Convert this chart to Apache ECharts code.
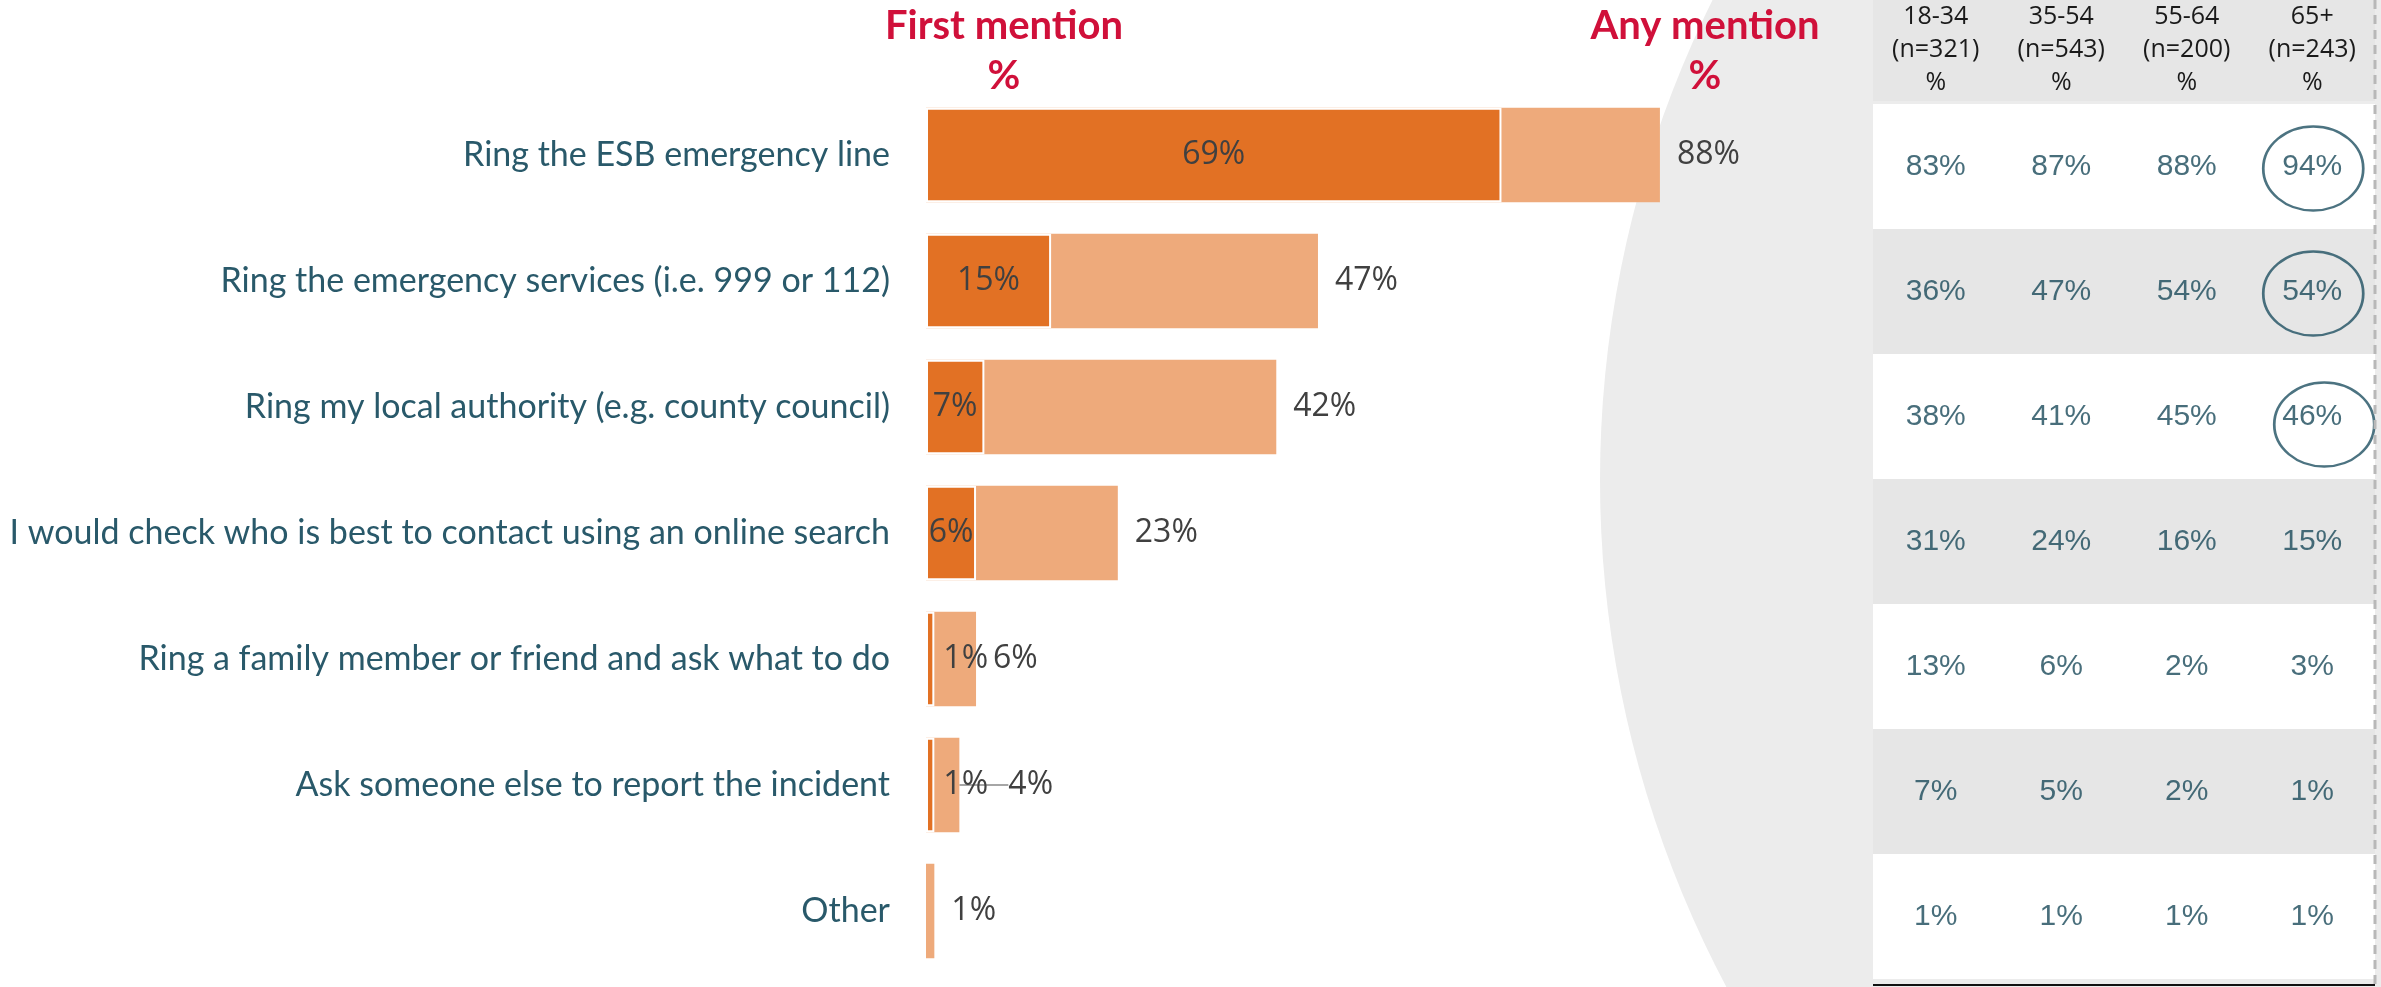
<!DOCTYPE html>
<html>
<head>
<meta charset="utf-8">
<script src="https://cdn.jsdelivr.net/npm/echarts@6/dist/echarts.min.js"></script>
<style>
html,body{margin:0;padding:0;background:#fff}
#chart{width:2381px;height:987px}
</style>
</head>
<body>
<div id="chart"></div>
<script>
// 数据
const categories = [
  'Ring the ESB emergency line',
  'Ring the emergency services (i.e. 999 or 112)',
  'Ring my local authority (e.g. county council)',
  'I would check who is best to contact using an online search',
  'Ring a family member or friend and ask what to do',
  'Ask someone else to report the incident',
  'Other'
]
const firstMention = [69, 15, 7, 6, 1, 1, '-']
const anyMention = [88, 47, 42, 23, 6, 4, 1]

const ageGroups = ['18-34', '35-54', '55-64', '65+']
const ageBases = ['n=321', 'n=543', 'n=200', 'n=243']
const age1834 = [83, 36, 38, 31, 13, 7, 1]
const age3554 = [87, 47, 41, 24, 6, 5, 1]
const age5564 = [88, 54, 45, 16, 2, 2, 1]
const age65plus = [94, 54, 46, 15, 3, 1, 1]
// 画圈的单元格 [列, 行]
const circled = [[3, 0], [3, 1], [3, 2]]

const labelFont = 'Lato'
const valueFont = 'Open Sans'
const teal = '#29596a'

const tableCols = [age1834, age3554, age5564, age65plus]
const tableData = []
tableCols.forEach((col, c) => {
  col.forEach((v, r) => tableData.push([c, r, v]))
})
const headerLabels = ageGroups.map((g, i) => g + '\n(' + ageBases[i] + ')\n%')

const circleOffsets = [[1, 2], [1, 2], [12, 8]]
// 标签被挤开的那一行(带引线)
const pushedLabel = 5

const chartInstance = echarts.init(document.getElementById('chart'))

const option = {
  backgroundColor: '#fff',
  animation: false,
  graphic: [
    // 背景的大灰色圆弧
    {type: 'circle', z: -5, shape: {cx: 2680, cy: 480, r: 1080}, style: {fill: '#ececec'}},
    {type: 'rect', z: -4, shape: {x: 1873, y: 0, width: 502, height: 101}, style: {fill: '#e6e6e6'}},
    {type: 'line', z: 10, shape: {x1: 2375, y1: 0, x2: 2375, y2: 987},
      style: {stroke: '#b8b8b8', lineWidth: 3, lineDash: [9, 6]}},
    {type: 'line', z: 10, shape: {x1: 1873, y1: 985, x2: 2375, y2: 985},
      style: {stroke: '#111', lineWidth: 2}},
    {type: 'text', z: 10, style: {text: 'First mention\n%', x: 1004, y: 1, align: 'center',
      fill: '#d0103a', font: 'bold 40px Lato', lineHeight: 50}},
    {type: 'text', z: 10, style: {text: 'Any mention\n%', x: 1705, y: 1, align: 'center',
      fill: '#d0103a', font: 'bold 40px Lato', lineHeight: 50}}
  ],
  grid: [
    {left: 926, top: 92, width: 834, height: 882},
    {left: 1873, top: 103, width: 502, height: 876}
  ],
  xAxis: [
    {type: 'value', min: 0, max: 100, show: false, gridIndex: 0},
    {
      type: 'category', gridIndex: 1, position: 'top', data: headerLabels,
      axisLine: {show: false}, axisTick: {show: false},
      axisLabel: {fontSize: 25, lineHeight: 33, color: '#1a1a1a', fontFamily: valueFont, margin: 5}
    }
  ],
  yAxis: [
    {
      type: 'category', gridIndex: 0, inverse: true, data: categories,
      axisLine: {show: false}, axisTick: {show: false},
      axisLabel: {fontSize: 34, color: teal, fontFamily: labelFont, margin: 36}
    },
    {
      type: 'category', gridIndex: 1, inverse: true, data: categories,
      axisLine: {show: false}, axisTick: {show: false}, axisLabel: {show: false},
      splitArea: {show: true, areaStyle: {color: ['#ffffff', '#e6e6e6']}}
    }
  ],
  series: [
    {
      name: 'Any mention',
      type: 'bar',
      data: anyMention.map((v, i) => (i === pushedLabel ? {value: v, labelLine: {show: true}} : v)),
      barCategoryGap: '25%',
      itemStyle: {color: '#eeaa7b'},
      label: {
        show: true, position: 'right', distance: 17, formatter: '{c}%',
        fontSize: 32, color: '#404040', fontFamily: valueFont
      },
      labelLayout: p => (p.dataIndex === pushedLabel ? {dx: 32} : {}),
      labelLine: {show: false, lineStyle: {color: '#a6a6a6', width: 2}}
    },
    {
      name: 'First mention',
      type: 'bar',
      barGap: '-100%',
      data: firstMention.map(v => (v !== '-' && v < 3)
        ? {value: v, label: {position: 'right', distance: 9}}
        : v),
      itemStyle: {color: '#e27124', borderColor: '#fff', borderWidth: 2},
      label: {
        show: true, position: 'inside', formatter: '{c}%',
        fontSize: 32, color: '#404040', fontFamily: valueFont
      }
    },
    {
      name: 'age table',
      type: 'scatter',
      xAxisIndex: 1, yAxisIndex: 1,
      data: tableData,
      symbolSize: 1,
      itemStyle: {color: 'rgba(0,0,0,0)'},
      label: {
        show: true, position: 'inside', formatter: p => p.value[2] + '%',
        fontSize: 30, color: '#1a4a5a', fontFamily: 'Liberation Sans'
      },
      silent: true
    },
    {
      name: 'highlight',
      type: 'scatter',
      xAxisIndex: 1, yAxisIndex: 1,
      data: circled.map((d, i) => ({value: d, symbolOffset: circleOffsets[i]})),
      symbol: 'circle',
      symbolSize: [100, 84],
      itemStyle: {color: 'rgba(0,0,0,0)', borderColor: '#1f5061', borderWidth: 2.5},
      silent: true
    }
  ]
}
chartInstance.setOption(option)
</script>
</body>
</html>
